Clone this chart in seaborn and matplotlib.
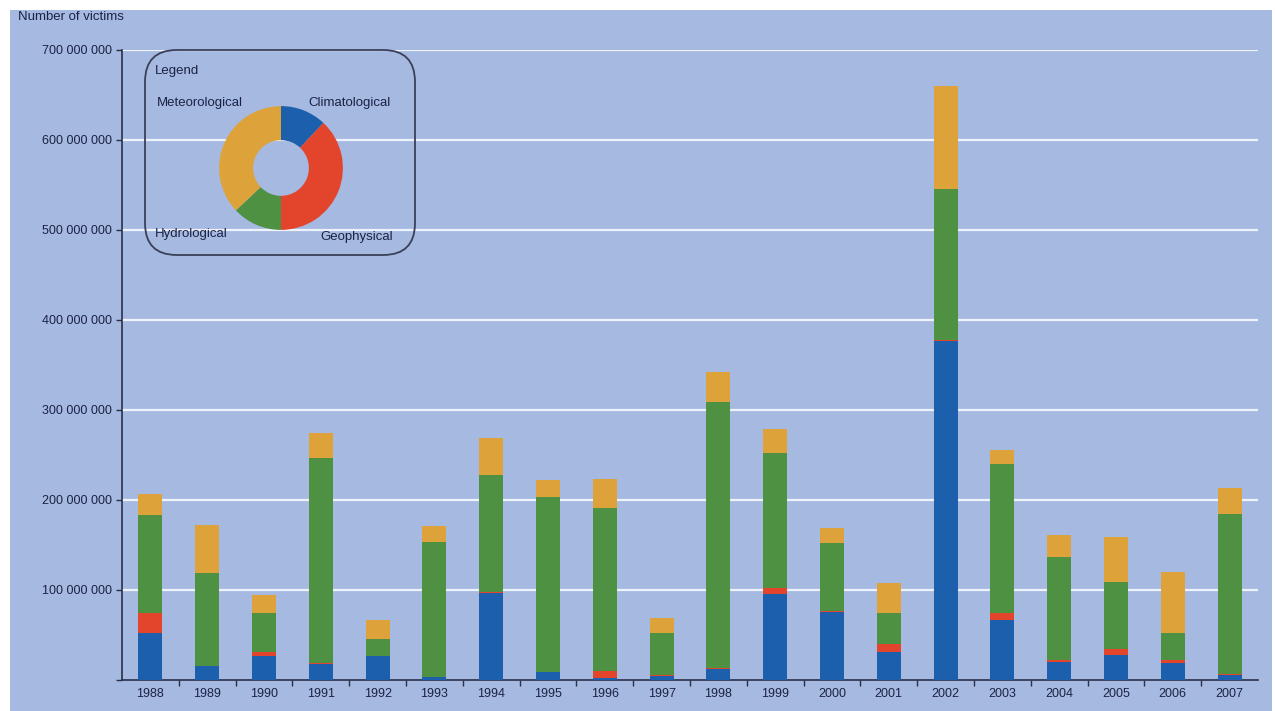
import numpy as np
import pandas as pd
import matplotlib
matplotlib.use("Agg")
import matplotlib.pyplot as plt
from matplotlib.patches import Rectangle, FancyBboxPatch
from matplotlib.ticker import FuncFormatter, FixedLocator
import seaborn as sns

# Victims per year and disaster type (millions)
years = [str(y) for y in range(1988, 2008)]
climatological = [52, 15.5, 27, 17.5, 26.5, 3, 97, 9, 2, 5, 12.5, 96, 76, 31.5, 377, 66.5, 20.5, 28, 18.5, 5.5]
geophysical = [23, 0.5, 4, 1, 0.5, 0.3, 1, 0.3, 7.5, 0.5, 0.5, 6.5, 1, 9, 0.3, 7.5, 1.5, 6, 3.5, 1.5]
hydrological = [108, 102.5, 44, 228.5, 19, 149.5, 130, 194.5, 181.5, 46.5, 296, 150, 75, 33.5, 168, 166.5, 115, 75, 30, 178]
meteorological = [24, 53.5, 19.5, 27, 20.5, 18.5, 40.5, 18.5, 32, 16.5, 33.5, 26, 16.5, 33.5, 115, 15, 24, 50, 68, 28]

# Share of each type shown in the legend ring
ring_labels = ["Climatological", "Geophysical", "Hydrological", "Meteorological"]
ring_shares = [12, 38, 13, 37]

colors = {
    "Climatological": "#1c5fac",
    "Geophysical": "#e2452c",
    "Hydrological": "#4e9143",
    "Meteorological": "#dea23b",
}
panel = "#a5b9e1"
ink = "#1b2244"

sns.set_theme(style="white")
plt.rcParams["font.family"] = ["Liberation Sans", "DejaVu Sans"]

df = pd.DataFrame({
    "year": years,
    "Climatological": np.array(climatological) * 1e6,
    "Geophysical": np.array(geophysical) * 1e6,
    "Hydrological": np.array(hydrological) * 1e6,
    "Meteorological": np.array(meteorological) * 1e6,
})
order = ["Climatological", "Geophysical", "Hydrological", "Meteorological"]
cum = df[order].cumsum(axis=1)

W, H = 1275, 711
fig = plt.figure(figsize=(W / 100, H / 100), dpi=100, facecolor="white")
fig.patches.append(Rectangle((10 / W, 0), 1262 / W, 1 - 10 / H, transform=fig.transFigure,
                             facecolor=panel, edgecolor="none", zorder=-10))

ax = fig.add_axes([122 / W, 1 - 680 / H, (1258 - 122) / W, (680 - 50) / H])
ax.set_facecolor("none")

# Stacked bars: draw cumulative totals from the top layer down
for name in reversed(order):
    sns.barplot(x=df["year"], y=cum[name], color=colors[name], width=0.42,
                saturation=1, ax=ax, zorder=3, edgecolor="none")

ax.set_xlim(-0.5, len(years) - 0.5)
ax.set_ylim(0, 700e6)
ax.set_xlabel("")
ax.set_ylabel("")
ax.yaxis.set_major_locator(FixedLocator(np.arange(0, 701e6, 100e6)))
ax.yaxis.set_major_formatter(FuncFormatter(
    lambda v, p: "" if v == 0 else f"{int(v):,}".replace(",", " ")))
for y in np.arange(100e6, 701e6, 100e6):
    ax.axhline(y, color="#eef2fb", lw=1.6, zorder=1)

for s in ["top", "right"]:
    ax.spines[s].set_visible(False)
for s in ["left", "bottom"]:
    ax.spines[s].set_color("#2a3048")
    ax.spines[s].set_linewidth(1.2)

ax.tick_params(axis="y", which="major", left=True, length=4, width=1, color="#2a3048",
               labelsize=9, labelcolor=ink, pad=3)
ax.tick_params(axis="x", which="major", bottom=False, length=0, labelsize=9,
               labelcolor=ink, pad=6)
ax.set_xticks(np.arange(len(years) - 1) + 0.5, minor=True)
ax.tick_params(axis="x", which="minor", bottom=True, length=4, width=1, color="#2a3048")

fig.text(18 / W, 1 - 17 / H, "Number of victims", fontsize=9.5, color=ink,
         ha="left", va="center")

# Legend box with ring chart
box = FancyBboxPatch((145 / W, 1 - 255 / H), 270 / W, 205 / H,
                     boxstyle="round,pad=0,rounding_size=0.025",
                     transform=fig.transFigure, facecolor="none",
                     edgecolor="#3a4058", lw=1.3, mutation_aspect=W / H)
fig.patches.append(box)
fig.text(155 / W, 1 - 71 / H, "Legend", fontsize=9.5, color=ink, ha="left", va="center")
fig.text(157 / W, 1 - 103 / H, "Meteorological", fontsize=9.5, color=ink, ha="left", va="center")
fig.text(308 / W, 1 - 103 / H, "Climatological", fontsize=9.5, color=ink, ha="left", va="center")
fig.text(155 / W, 1 - 234 / H, "Hydrological", fontsize=9.5, color=ink, ha="left", va="center")
fig.text(320 / W, 1 - 237 / H, "Geophysical", fontsize=9.5, color=ink, ha="left", va="center")

cx, cy, r = 281, 168, 65
ax_ring = fig.add_axes([(cx - r) / W, 1 - (cy + r) / H, 2 * r / W, 2 * r / H])
ax_ring.pie(ring_shares, colors=[colors[k] for k in ring_labels], startangle=90,
            counterclock=False, radius=1.0,
            wedgeprops=dict(width=0.55, edgecolor="none"))
ax_ring.set_xlim(-1.05, 1.05)
ax_ring.set_ylim(-1.05, 1.05)
ax_ring.set_aspect("equal")
ax_ring.axis("off")

fig.savefig("out.png", dpi=100, facecolor="white")
